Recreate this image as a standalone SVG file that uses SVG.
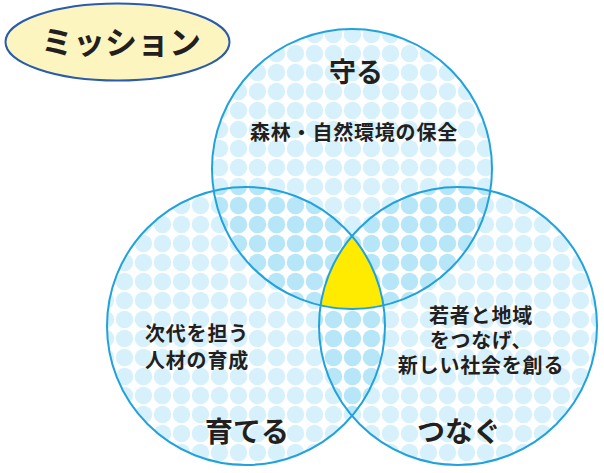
<svg xmlns="http://www.w3.org/2000/svg" width="604" height="473" viewBox="0 0 604 473">
<style>
.t{font-family:"Noto Sans CJK JP","Noto Sans",sans-serif;fill:#231f20;text-anchor:middle}
.h{font-weight:700}
.b{font-weight:700;font-size:20px;letter-spacing:0.8px}
.ring{fill:none;stroke:#22a2dc;stroke-width:2}
.area{fill:url(#dots)}
</style>
<defs>
<pattern id="dots" patternUnits="userSpaceOnUse" x="1" y="6" width="19" height="19">
<circle cx="9.5" cy="9.5" r="8.7" fill="#3fbef0" fill-opacity="0.21"/>
</pattern>
</defs>
<rect width="604" height="473" fill="#ffffff"/>
<g id="mission">
<ellipse cx="117.5" cy="42" rx="112" ry="38.5" fill="#fdf5c0" stroke="#2a5caa" stroke-width="2"/>
<text class="t h" x="121" y="54" font-size="32">ミッション</text>
</g>
<g id="circle-mamoru">
<circle class="area" cx="352" cy="169" r="140"/>
</g>
<g id="circle-sodateru">
<circle class="area" cx="246" cy="326" r="139"/>
</g>
<g id="circle-tsunagu">
<circle class="area" cx="458" cy="326" r="139"/>
</g>
<g id="center">
<path d="M352 236.1 A139 139 0 0 1 383.46 305.41 A140 140 0 0 1 320.54 305.41 A139 139 0 0 1 352 236.1 Z" fill="#ffeb00"/>
</g>
<g id="connectors">
<circle class="ring" cx="352" cy="169" r="140"/>
<circle class="ring" cx="246" cy="326" r="139"/>
<circle class="ring" cx="458" cy="326" r="139"/>
</g>
<g id="labels-mamoru">
<text class="t h" x="356" y="82" font-size="27">守る</text>
<text class="t b" x="354" y="140">森林・自然環境の保全</text>
</g>
<g id="labels-sodateru">
<text class="t b" x="197" y="341">次代を担う</text>
<text class="t b" x="197" y="368">人材の育成</text>
<text class="t h" x="247" y="442" font-size="28">育てる</text>
</g>
<g id="labels-tsunagu">
<text class="t b" x="481" y="323">若者と地域</text>
<text class="t b" x="481" y="348">をつなげ、</text>
<text class="t b" x="481" y="373">新しい社会を創る</text>
<text class="t h" x="459" y="442" font-size="28">つなぐ</text>
</g>
</svg>
